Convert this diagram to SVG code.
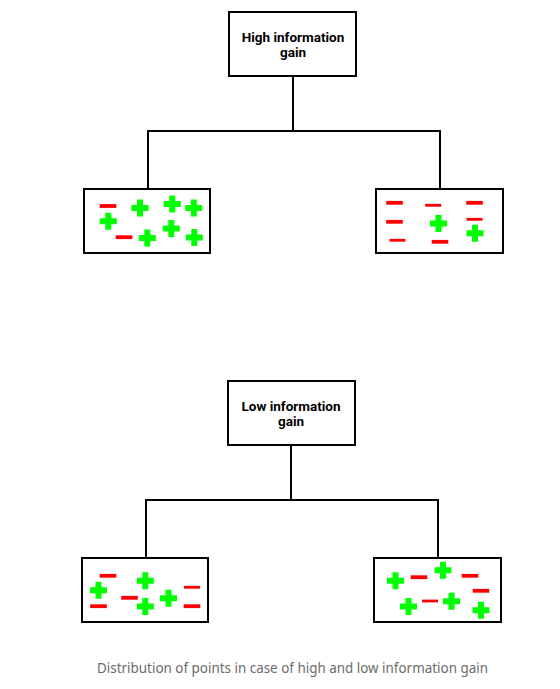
<svg xmlns="http://www.w3.org/2000/svg" xmlns:xlink="http://www.w3.org/1999/xlink" width="560" height="689" viewBox="0 0 560 689">
  <style>
    .box { fill: #ffffff; stroke: #000000; stroke-width: 2; }
    .wire { fill: none; stroke: #000000; stroke-width: 2; }
    .title { font-family: Roboto, "Liberation Sans", sans-serif; font-weight: bold; font-size: 13.5px; fill: #000000; text-anchor: middle; }
    .caption { font-family: "Noto Sans", "Open Sans", sans-serif; font-size: 14px; fill: #6b6b6b; }
    .pos { fill: #00ff00; }
    .neg { fill: #ff0000; }
  </style>
  <defs>
    <path id="plus" class="pos" d="M-3,-8.5 h6 v5.5 h5.5 v6 h-5.5 v5.5 h-6 v-5.5 h-5.5 v-6 h5.5 z"/>
    <rect id="minus" class="neg" x="-8.3" y="-1.9" width="16.6" height="3.8"/>
    <rect id="minusThin" class="neg" x="-8" y="-1.4" width="16" height="2.8"/>
  </defs>

  <rect width="560" height="689" fill="#ffffff"/>

  <!-- tree connectors -->
  <g id="connectors">
    <path class="wire" d="M293,76 V131 M148,131 H441 M148,130 V189 M440,130 V189"/>
    <path class="wire" d="M291,445 V500 M146,500 H439 M146,499 V558 M438,499 V558"/>
  </g>

  <!-- high information gain split -->
  <g id="high-root">
    <rect class="box" x="229" y="12" width="127" height="64"/>
    <text class="title" x="293" y="41.5">High information</text>
    <text class="title" x="293" y="57">gain</text>
  </g>

  <g id="high-left">
    <rect class="box" x="84" y="189" width="126" height="64"/>
    <use xlink:href="#minus" x="108" y="206"/>
    <use xlink:href="#plus" x="140" y="208"/>
    <use xlink:href="#plus" x="172.3" y="204"/>
    <use xlink:href="#plus" x="193.8" y="208"/>
    <use xlink:href="#plus" x="108.3" y="221.3"/>
    <use xlink:href="#minus" x="124" y="237.2"/>
    <use xlink:href="#plus" x="147.3" y="238"/>
    <use xlink:href="#plus" x="171.3" y="228.5"/>
    <use xlink:href="#plus" x="194.3" y="237.5"/>
  </g>

  <g id="high-right">
    <rect class="box" x="376" y="189" width="127" height="64"/>
    <use xlink:href="#minus" x="394.5" y="202.8"/>
    <use xlink:href="#minusThin" x="433.2" y="205.3"/>
    <use xlink:href="#minus" x="474.5" y="202.8"/>
    <use xlink:href="#minus" x="394.5" y="221.8"/>
    <use xlink:href="#plus" x="438.5" y="223.5"/>
    <use xlink:href="#minusThin" x="474.5" y="219.3"/>
    <use xlink:href="#minusThin" x="397.5" y="240.3"/>
    <use xlink:href="#plus" x="475" y="233.3"/>
    <use xlink:href="#minus" x="440" y="241.8"/>
  </g>

  <!-- low information gain split -->
  <g id="low-root">
    <rect class="box" x="228" y="381" width="127" height="64"/>
    <text class="title" x="291" y="410.5">Low information</text>
    <text class="title" x="291" y="426">gain</text>
  </g>

  <g id="low-left">
    <rect class="box" x="82" y="558" width="126" height="64"/>
    <use xlink:href="#minus" x="108" y="575.8"/>
    <use xlink:href="#plus" x="145.3" y="580.8"/>
    <use xlink:href="#plus" x="98.5" y="590.3"/>
    <use xlink:href="#minus" x="129.5" y="597.8"/>
    <use xlink:href="#minusThin" x="192" y="587.3"/>
    <use xlink:href="#plus" x="168.5" y="598.3"/>
    <use xlink:href="#minus" x="98.5" y="606.2"/>
    <use xlink:href="#plus" x="145.3" y="606.5"/>
    <use xlink:href="#minus" x="192" y="606.2"/>
  </g>

  <g id="low-right">
    <rect class="box" x="374" y="558" width="127" height="64"/>
    <use xlink:href="#plus" x="395.5" y="580.8"/>
    <use xlink:href="#minus" x="419" y="577.2"/>
    <use xlink:href="#plus" x="443" y="570.2"/>
    <use xlink:href="#minus" x="470" y="575.8"/>
    <use xlink:href="#minus" x="481" y="590.8"/>
    <use xlink:href="#plus" x="408.5" y="606.5"/>
    <use xlink:href="#minusThin" x="430" y="601"/>
    <use xlink:href="#plus" x="451.5" y="601.3"/>
    <use xlink:href="#plus" x="481" y="610.3"/>
  </g>

  <text class="caption" x="97" y="672.5" textLength="391" lengthAdjust="spacingAndGlyphs">Distribution of points in case of high and low information gain</text>
</svg>
